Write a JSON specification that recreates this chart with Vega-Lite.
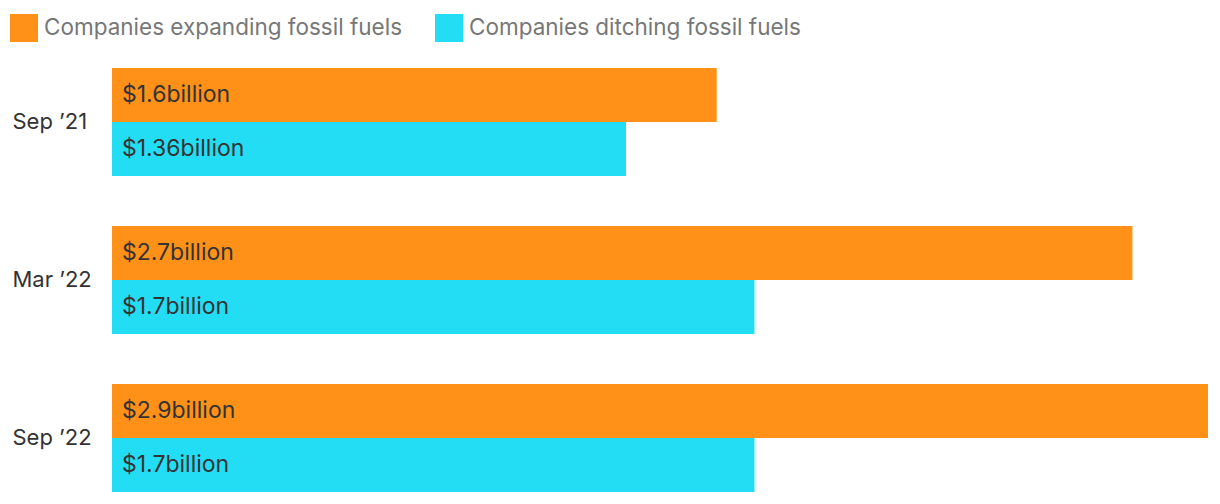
{
  "$schema": "https://vega.github.io/schema/vega-lite/v6.json",
  "width": 1096,
  "height": 424,
  "autosize": {"type": "none"},
  "padding": {"left": 112, "top": 68, "right": 12, "bottom": 12},
  "background": "white",
  "config": {"view": {"stroke": null}, "font": "Inter"},
  "data": {
    "values": [
      {"period": "Sep ’21", "series": "Companies expanding fossil fuels", "value": 1.6, "label": "$1.6billion"},
      {"period": "Sep ’21", "series": "Companies ditching fossil fuels", "value": 1.36, "label": "$1.36billion"},
      {"period": "Mar ’22", "series": "Companies expanding fossil fuels", "value": 2.7, "label": "$2.7billion"},
      {"period": "Mar ’22", "series": "Companies ditching fossil fuels", "value": 1.7, "label": "$1.7billion"},
      {"period": "Sep ’22", "series": "Companies expanding fossil fuels", "value": 2.9, "label": "$2.9billion"},
      {"period": "Sep ’22", "series": "Companies ditching fossil fuels", "value": 1.7, "label": "$1.7billion"}
    ]
  },
  "encoding": {
    "y": {
      "field": "period", "type": "nominal",
      "sort": ["Sep ’21", "Mar ’22", "Sep ’22"],
      "scale": {"paddingInner": 0.3165, "paddingOuter": 0},
      "axis": {"title": null, "domain": false, "ticks": false, "labelFontSize": 22, "labelColor": "#333333", "labelAlign": "left", "labelPadding": 100}
    },
    "yOffset": {
      "field": "series", "type": "nominal",
      "sort": ["Companies expanding fossil fuels", "Companies ditching fossil fuels"],
      "scale": {"paddingInner": 0, "paddingOuter": 0}
    }
  },
  "layer": [
    {
      "mark": {"type": "bar", "cornerRadius": 0},
      "encoding": {
        "x": {"field": "value", "type": "quantitative", "scale": {"domain": [0, 2.9], "nice": false, "zero": true}, "axis": null},
        "color": {
          "field": "series", "type": "nominal",
          "sort": ["Companies expanding fossil fuels", "Companies ditching fossil fuels"],
          "scale": {"domain": ["Companies expanding fossil fuels", "Companies ditching fossil fuels"], "range": ["#FF9119", "#22DDF3"]},
          "legend": {
            "title": null, "orient": "none", "direction": "horizontal",
            "legendX": -102, "legendY": -54,
            "symbolType": "square", "symbolSize": 784, "symbolStrokeWidth": 0, "symbolOpacity": 1,
            "labelFontSize": 22.5, "labelColor": "#777777", "labelOffset": 6, "columnPadding": 32,
            "padding": 0, "labelLimit": 600
          }
        }
      }
    },
    {
      "mark": {"type": "text", "align": "left", "baseline": "middle", "dx": 10, "fontSize": 23, "color": "#333333"},
      "encoding": {
        "x": {"datum": 0, "type": "quantitative"},
        "text": {"field": "label", "type": "nominal"}
      }
    }
  ]
}
